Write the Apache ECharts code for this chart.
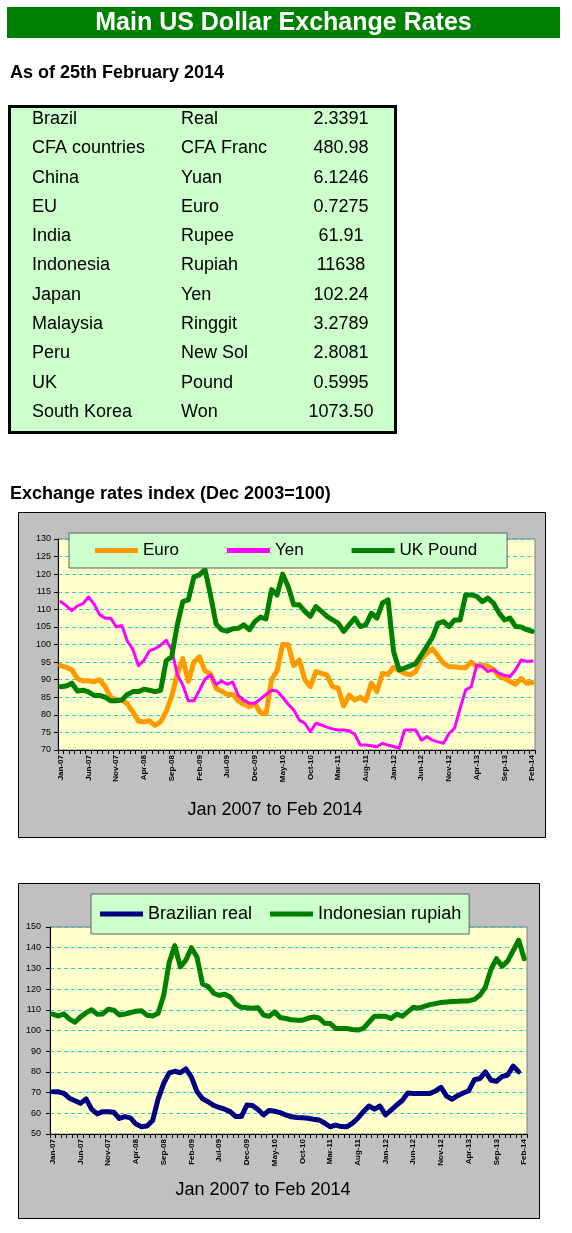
<!DOCTYPE html>
<html><head><meta charset="utf-8">
<script src="https://cdn.jsdelivr.net/npm/echarts/dist/echarts.min.js"></script>
<style>html,body{margin:0;padding:0;background:#fff}#c{width:572px;height:1233px}</style>
</head><body><div id="c"></div><script>
const FONT = '"Liberation Sans", Arial, sans-serif';

// ---- Table data ----
const countries = ['Brazil','CFA countries','China','EU','India','Indonesia','Japan','Malaysia','Peru','UK','South Korea'];
const currencies = ['Real','CFA Franc','Yuan','Euro','Rupee','Rupiah','Yen','Ringgit','New Sol','Pound','Won'];
const rates = ['2.3391','480.98','6.1246','0.7275','61.91','11638','102.24','3.2789','2.8081','0.5995','1073.50'];

// ---- Month categories (Jan 2007 to Feb 2014) ----
const months = [
 'Jan-07','Feb-07','Mar-07','Apr-07','May-07','Jun-07','Jul-07','Aug-07','Sep-07','Oct-07','Nov-07','Dec-07',
 'Jan-08','Feb-08','Mar-08','Apr-08','May-08','Jun-08','Jul-08','Aug-08','Sep-08','Oct-08','Nov-08','Dec-08',
 'Jan-09','Feb-09','Mar-09','Apr-09','May-09','Jun-09','Jul-09','Aug-09','Sep-09','Oct-09','Nov-09','Dec-09',
 'Jan-10','Feb-10','Mar-10','Apr-10','May-10','Jun-10','Jul-10','Aug-10','Sep-10','Oct-10','Nov-10','Dec-10',
 'Jan-11','Feb-11','Mar-11','Apr-11','May-11','Jun-11','Jul-11','Aug-11','Sep-11','Oct-11','Nov-11','Dec-11',
 'Jan-12','Feb-12','Mar-12','Apr-12','May-12','Jun-12','Jul-12','Aug-12','Sep-12','Oct-12','Nov-12','Dec-12',
 'Jan-13','Feb-13','Mar-13','Apr-13','May-13','Jun-13','Jul-13','Aug-13','Sep-13','Oct-13','Nov-13','Dec-13',
 'Jan-14','Feb-14'
];

// ---- Chart 1 series (index, Dec 2003=100) ----
const euro = [94, 93.5, 92.8, 90.3, 89.7, 89.7, 89.4, 90, 88, 85,
 84.2, 84.2, 83.2, 80.8, 78.2, 78, 78.3, 77, 78, 81,
 85.3, 91.5, 96, 89.5, 95, 96.5, 92.5, 91.6, 87.5, 86.7,
 85.8, 85.8, 84, 83, 82.3, 83.2, 80.5, 80.3, 90, 92.5,
 100, 99.9, 94, 95.6, 90, 88, 92.3, 91.8, 91.3, 88,
 87.6, 82.5, 85.6, 84.2, 85, 84, 89, 86.6, 91.8, 91.5,
 93.5, 92.6, 91.8, 91.4, 92.3, 96, 97.5, 98.8, 96.8, 94.7,
 93.7, 93.7, 93.4, 93.4, 95, 93.7, 94.2, 93.8, 93, 91,
 90.4, 89.5, 88.7, 90.3, 89, 89.2];
const yen = [112.2, 111, 109.6, 111, 111.6, 113.5, 111.5, 108.5, 107.5, 107.5,
 105, 105.4, 101, 98.6, 94, 95.5, 98.2, 98.8, 99.8, 101.2,
 98.5, 91.5, 88.5, 84, 84, 87, 90.2, 91.3, 88.6, 89.6,
 88.7, 89.3, 85.5, 84.2, 83.3, 83.3, 84.5, 85.8, 87, 86.8,
 85, 83, 81.4, 78.5, 77.6, 75.2, 77.6, 77.1, 76.5, 76,
 75.7, 75.7, 75.5, 74.5, 71.4, 71.4, 71.2, 70.9, 71.9, 71.4,
 71, 70.5, 75.7, 75.7, 75.7, 72.8, 73.8, 72.8, 72.3, 71.9,
 74.7, 76.2, 81.9, 87.1, 88, 94.2, 93.7, 92.3, 92.8, 91.8,
 91.3, 90.9, 92.8, 95.6, 95.2, 95.3];
const pound = [88, 88.2, 89, 86.8, 87, 86.5, 85.5, 85.5, 85, 84,
 84, 84.2, 85.8, 86.6, 86.6, 87.3, 87, 86.6, 87, 95.3,
 96.6, 105.5, 112.2, 112.7, 119.2, 119.8, 121.3, 114, 105.8, 104.2,
 103.8, 104.5, 104.6, 105.6, 104.2, 106.5, 107.8, 107.3, 115.6, 114.1,
 120, 116.5, 111.3, 111.3, 109.4, 108, 110.8, 109.4, 108, 107,
 106.1, 103.7, 105.6, 107.5, 105.1, 105.6, 108.9, 107.5, 111.8, 112.7,
 98, 92.8, 93.3, 93.9, 94.6, 97, 99.5, 102, 106, 106.5,
 105.1, 107, 107, 114.1, 114.1, 113.7, 112.2, 113.2, 111.8, 109,
 107, 107.5, 105.1, 105, 104.2, 103.7];

// ---- Chart 2 series ----
const brazil = [70.4, 70.4, 69.6, 67.3, 66.1, 64.8, 67, 62, 59.7, 60.8,
 60.8, 60.5, 57.5, 58.4, 57.8, 54.8, 53.5, 53.9, 56.5, 67,
 74.5, 79.5, 80.3, 79.6, 81.5, 77.5, 70.5, 67, 65.6, 63.8,
 62.8, 62, 60.8, 58.4, 58.4, 64, 63.8, 61.8, 59.2, 61.4,
 61, 60.3, 59.2, 58.3, 58, 57.9, 57.6, 57.1, 56.8, 55.3,
 53.5, 54.3, 53.6, 53.5, 55.1, 57.6, 60.8, 63.5, 62, 63.5,
 59.2, 61.5, 64, 66.2, 69.8, 69.6, 69.6, 69.6, 69.6, 70.8,
 72.5, 68.3, 66.8, 68.5, 69.8, 70.9, 76.2, 76.8, 80, 76,
 75.5, 77.7, 78.5, 82.8, 80.1];
const indonesia = [107.9, 107, 108, 105.5, 104, 106.6, 108.5, 110, 107.9, 108,
 110.3, 109.8, 107.5, 108, 108.6, 109.3, 109.5, 107.4, 107, 108.3,
 117, 133, 141, 130.7, 134, 140, 135.5, 122.5, 121.3, 118,
 117, 117.5, 116.2, 112.8, 111.2, 111, 110.8, 111, 107.5, 106.8,
 109, 106.3, 105.8, 105.2, 104.9, 105, 105.9, 106.5, 106, 103.5,
 103.4, 101, 101, 101, 100.5, 100.2, 101, 104, 106.9, 106.9,
 106.9, 105.8, 107.9, 106.9, 109, 111.2, 110.8, 111.7, 112.5, 113,
 113.5, 113.8, 114, 114.1, 114.3, 114.3, 115, 117, 121, 129.5,
 134.7, 131, 133.5, 138.5, 143.6, 134.7];

const chart = echarts.init(document.getElementById('c'), null, {renderer: 'canvas'});

const els = [];
// title bar
els.push({type:'rect', z:-5, shape:{x:7,y:7,width:553,height:31}, style:{fill:'#008000'}});
els.push({type:'text', x:283.5, y:23, style:{text:'Main US Dollar Exchange Rates', fill:'#fff', font:'bold 25px '+FONT, align:'center', verticalAlign:'middle'}});
els.push({type:'text', x:10, y:73, style:{text:'As of 25th February 2014', fill:'#000', font:'bold 18px '+FONT, align:'left', verticalAlign:'middle'}});
// table
els.push({type:'rect', z:-5, shape:{x:9.5,y:106.5,width:386,height:326}, style:{fill:'#CCFFCC', stroke:'#000', lineWidth:3}});
countries.forEach((c,k) => {
  const y = 119 + 29.3*k;
  els.push({type:'text', x:32, y:y, style:{text:c, fill:'#000', font:'18px '+FONT, align:'left', verticalAlign:'middle'}});
  els.push({type:'text', x:181, y:y, style:{text:currencies[k], fill:'#000', font:'18px '+FONT, align:'left', verticalAlign:'middle'}});
  els.push({type:'text', x:341, y:y, style:{text:rates[k], fill:'#000', font:'18px '+FONT, align:'center', verticalAlign:'middle'}});
});
els.push({type:'text', x:10, y:494, style:{text:'Exchange rates index (Dec 2003=100)', fill:'#000', font:'bold 18px '+FONT, align:'left', verticalAlign:'middle'}});
// chart frames
els.push({type:'rect', z:-5, shape:{x:18.5,y:512.5,width:527,height:325}, style:{fill:'#C0C0C0', stroke:'#000', lineWidth:1}});
els.push({type:'text', x:275, y:810, style:{text:'Jan 2007 to Feb 2014', fill:'#000', font:'18px '+FONT, align:'center', verticalAlign:'middle'}});
els.push({type:'rect', z:-5, shape:{x:18.5,y:883.5,width:521,height:335}, style:{fill:'#C0C0C0', stroke:'#000', lineWidth:1}});
els.push({type:'text', x:263, y:1190, style:{text:'Jan 2007 to Feb 2014', fill:'#000', font:'18px '+FONT, align:'center', verticalAlign:'middle'}});

function xAxis(gi){
  return {type:'category', gridIndex:gi, data:months, boundaryGap:true,
    axisLine:{lineStyle:{color:'#000', width:1}},
    axisTick:{show:true, interval:0, length:4, lineStyle:{color:'#000'}},
    axisLabel:{interval:4, rotate:90, fontSize:8, fontWeight:'bold', color:'#000', margin:5, fontFamily:FONT},
    splitLine:{show:false}};
}
function yAxis(gi, min, max, step, margin){
  return {type:'value', gridIndex:gi, min:min, max:max, interval:step,
    axisLine:{show:true, lineStyle:{color:'#000', width:1}},
    axisTick:{show:true, length:4, lineStyle:{color:'#000'}},
    axisLabel:{fontSize:9, color:'#000', margin:margin, fontFamily:FONT},
    splitLine:{show:true, lineStyle:{type:[4,3], color:'#33CCCC', width:1}}};
}
function line(name, data, color, width, gi){
  return {name:name, type:'line', xAxisIndex:gi, yAxisIndex:gi, data:data, symbol:'none',
    lineStyle:{color:color, width:width, cap:'round', join:'round'}, itemStyle:{color:color}, animation:false};
}

chart.setOption({
  animation:false,
  backgroundColor:'#fff',
  graphic:{elements:els},
  grid:[
    {left:58, top:539, width:477, height:211, show:true, backgroundColor:'#FFFFCC', borderColor:'#808080', borderWidth:1},
    {left:50, top:927, width:477, height:207, show:true, backgroundColor:'#FFFFCC', borderColor:'#808080', borderWidth:1}
  ],
  legend:[
    {data:['Euro','Yen','UK Pound'], left:69, top:533, orient:'horizontal',
     padding:[9,30,9,26], itemGap:48, itemWidth:43, itemHeight:5, icon:'rect',
     backgroundColor:'#CCFFCC', borderColor:'#606060', borderWidth:1,
     textStyle:{fontSize:17, color:'#000', fontFamily:FONT}, selectedMode:false},
    {data:['Brazilian real','Indonesian rupiah'], left:91, top:894, orient:'horizontal',
     padding:[11,8,11,9], itemGap:18, itemWidth:43, itemHeight:5, icon:'rect',
     backgroundColor:'#CCFFCC', borderColor:'#606060', borderWidth:1,
     textStyle:{fontSize:18, color:'#000', fontFamily:FONT}, selectedMode:false}
  ],
  xAxis:[xAxis(0), xAxis(1)],
  yAxis:[yAxis(0,70,130,5,7), yAxis(1,50,150,10,9)],
  series:[
    line('Euro', euro, '#FF9900', 5, 0),
    line('Yen', yen, '#FF00FF', 3, 0),
    line('UK Pound', pound, '#008000', 5, 0),
    line('Brazilian real', brazil, '#000080', 5, 1),
    line('Indonesian rupiah', indonesia, '#008000', 5, 1)
  ]
});
</script></body></html>
